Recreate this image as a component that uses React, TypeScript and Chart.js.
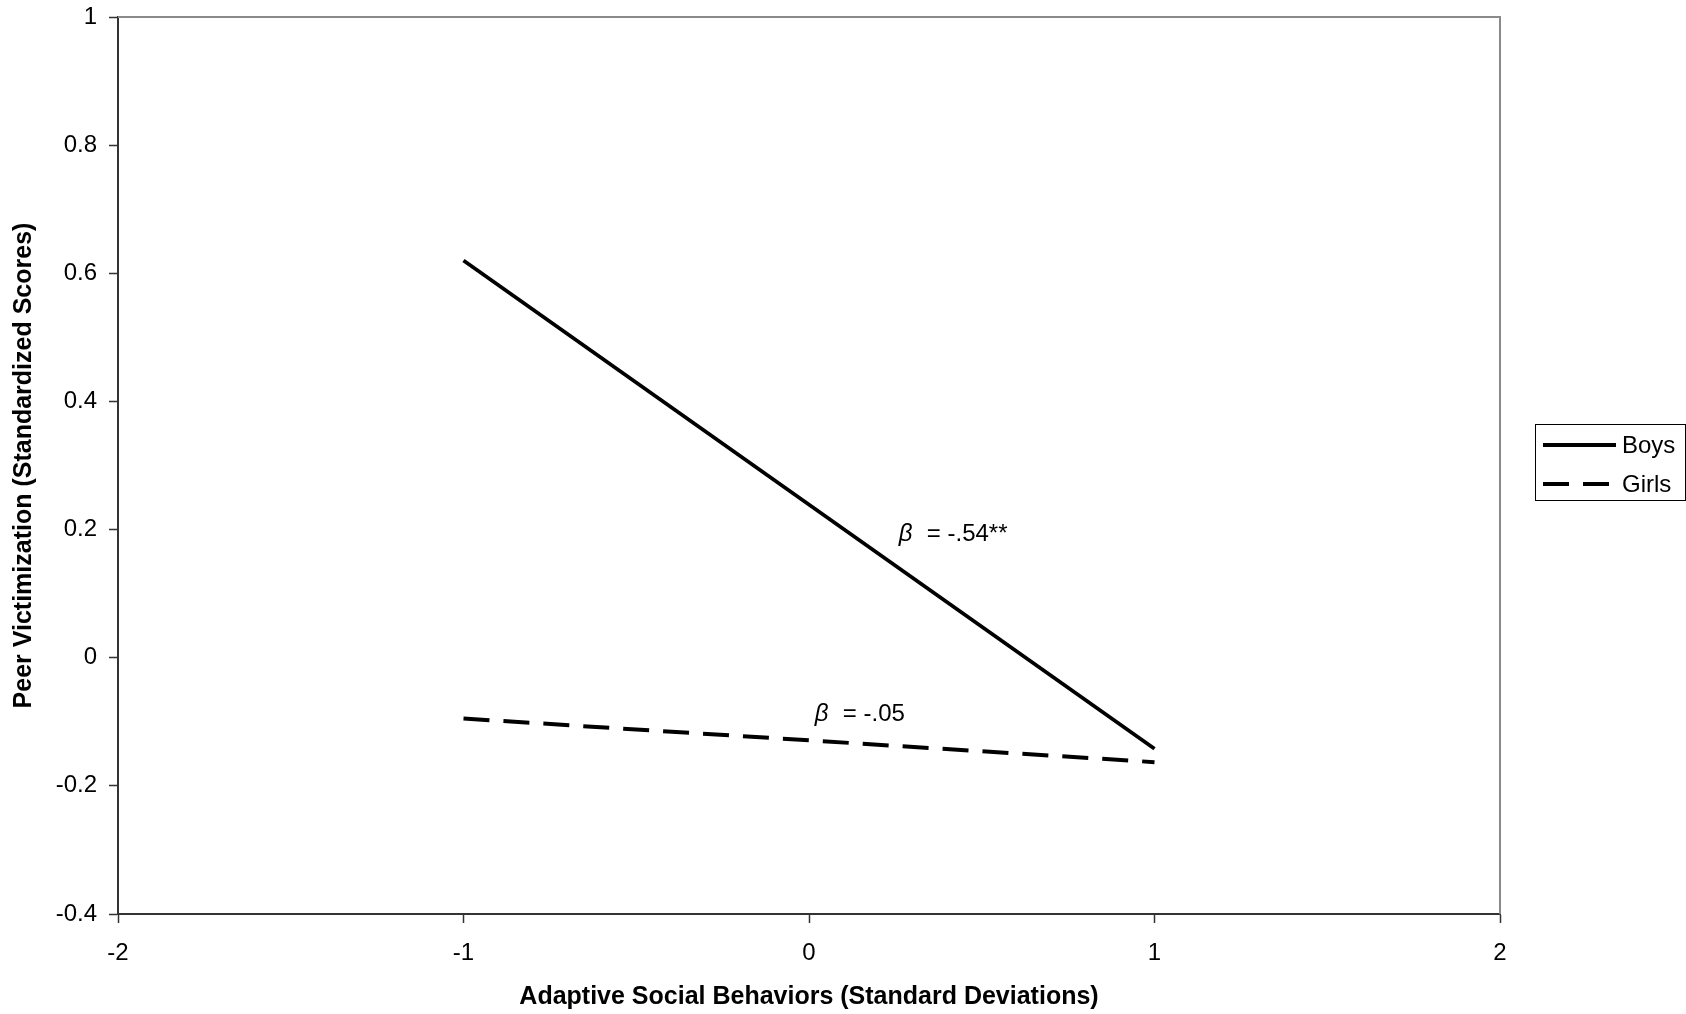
import React, { useEffect, useRef } from "react";
import { Chart, registerables } from "chart.js";

Chart.register(...registerables);

const xValues = [-1, 1];
const boysValues = [0.62, -0.142];
const girlsValues = [-0.095, -0.163];
const seriesLabels = ["Boys", "Girls"];
const xTickLabels = ["-2", "-1", "0", "1", "2"];
const yTickLabels = ["-0.4", "-0.2", "0", "0.2", "0.4", "0.6", "0.8", "1"];
const xTitle = "Adaptive Social Behaviors (Standard Deviations)";
const yTitle = "Peer Victimization (Standardized Scores)";
const annotationTexts = ["= -.54**", "= -.05"];
const annotationX = [0.26, 0.017];
const annotationY = [0.193, -0.089];

const FONT = '"Liberation Sans", Arial, sans-serif';

const extrasPlugin = {
  id: "extras",
  afterDraw(chart: any) {
    const { ctx, chartArea, scales } = chart;
    ctx.save();
    ctx.strokeStyle = "#8a8a8a";
    ctx.lineWidth = 2;
    ctx.beginPath();
    ctx.moveTo(chartArea.left, chartArea.top);
    ctx.lineTo(chartArea.right, chartArea.top);
    ctx.lineTo(chartArea.right, chartArea.bottom);
    ctx.stroke();

    ctx.fillStyle = "#000";
    ctx.textBaseline = "middle";
    ctx.textAlign = "left";
    annotationTexts.forEach((t, i) => {
      const px = scales.x.getPixelForValue(annotationX[i]);
      const py = scales.y.getPixelForValue(annotationY[i]);
      ctx.font = `italic 24px ${FONT}`;
      ctx.fillText("β", px, py);
      ctx.font = `24px ${FONT}`;
      ctx.fillText(t, px + 28, py);
    });

    const bx = 1535.5, by = 424.5, bw = 150, bh = 76;
    ctx.strokeStyle = "#000";
    ctx.lineWidth = 1;
    ctx.strokeRect(bx, by, bw, bh);
    const ds = chart.data.datasets;
    const rows = [445, 484];
    ds.forEach((d: any, i: number) => {
      ctx.strokeStyle = d.borderColor;
      ctx.lineWidth = 4;
      ctx.lineCap = "butt";
      ctx.setLineDash(d.borderDash || []);
      ctx.beginPath();
      ctx.moveTo(1543, rows[i]);
      ctx.lineTo(i === 0 ? 1616 : 1610, rows[i]);
      ctx.stroke();
      ctx.setLineDash([]);
      ctx.fillStyle = "#000";
      ctx.font = `24px ${FONT}`;
      ctx.textBaseline = "middle";
      ctx.fillText(d.label, 1622, rows[i] + 1);
    });
    ctx.restore();
  },
};

export default function App() {
  const ref = useRef<HTMLCanvasElement | null>(null);
  useEffect(() => {
    if (!ref.current) return;
    const chart = new Chart(ref.current, {
      type: "line",
      data: {
        datasets: [
          {
            label: seriesLabels[0],
            data: xValues.map((x, i) => ({ x, y: boysValues[i] })),
            borderColor: "#000",
            borderWidth: 3.8,
            pointRadius: 0,
            fill: false,
          },
          {
            label: seriesLabels[1],
            data: xValues.map((x, i) => ({ x, y: girlsValues[i] })),
            borderColor: "#000",
            borderWidth: 4,
            borderDash: [26, 14],
            borderCapStyle: "butt",
            pointRadius: 0,
            fill: false,
          },
        ],
      },
      options: {
        responsive: false,
        animation: false,
        layout: { padding: { left: 0, top: 17, right: 186, bottom: 0 } },
        plugins: {
          legend: { display: false },
          tooltip: { enabled: false },
        },
        scales: {
          x: {
            type: "linear",
            min: -2,
            max: 2,
            ticks: {
              stepSize: 1,
              color: "#000",
              font: { family: FONT, size: 24 },
              padding: 16,
              callback: (_v: any, i: number) => xTickLabels[i],
            },
            grid: {
              drawOnChartArea: false,
              drawTicks: true,
              tickLength: 9,
              tickColor: "#333",
              tickWidth: 1.5,
            },
            border: { display: true, color: "#333", width: 2 },
            title: {
              display: true,
              text: xTitle,
              color: "#000",
              font: { family: FONT, size: 25, weight: "bold" },
              padding: { top: 0, bottom: 2 },
            },
            afterFit(scale: any) {
              scale.height = 100;
              scale.paddingLeft = 0;
              scale.paddingRight = 0;
            },
          },
          y: {
            type: "linear",
            min: -0.4,
            max: 1,
            ticks: {
              stepSize: 0.2,
              color: "#000",
              font: { family: FONT, size: 24 },
              padding: 12,
              callback: (_v: any, i: number) => yTickLabels[i],
            },
            grid: {
              drawOnChartArea: false,
              drawTicks: true,
              tickLength: 9,
              tickColor: "#333",
              tickWidth: 1.5,
            },
            border: { display: true, color: "#333", width: 2 },
            title: {
              display: true,
              text: yTitle,
              color: "#000",
              font: { family: FONT, size: 25, weight: "bold" },
              padding: { top: 9, bottom: 0 },
            },
            afterFit(scale: any) {
              scale.width = 118;
              scale.paddingTop = 0;
              scale.paddingBottom = 0;
            },
          },
        },
      },
      plugins: [extrasPlugin],
    } as any);
    return () => chart.destroy();
  }, []);
  return (
    <div style={{ position: "absolute", left: 0, top: 0, width: 1686, height: 1014, background: "#fff" }}>
      <canvas ref={ref} width={1686} height={1014} style={{ display: "block" }} />
    </div>
  );
}
